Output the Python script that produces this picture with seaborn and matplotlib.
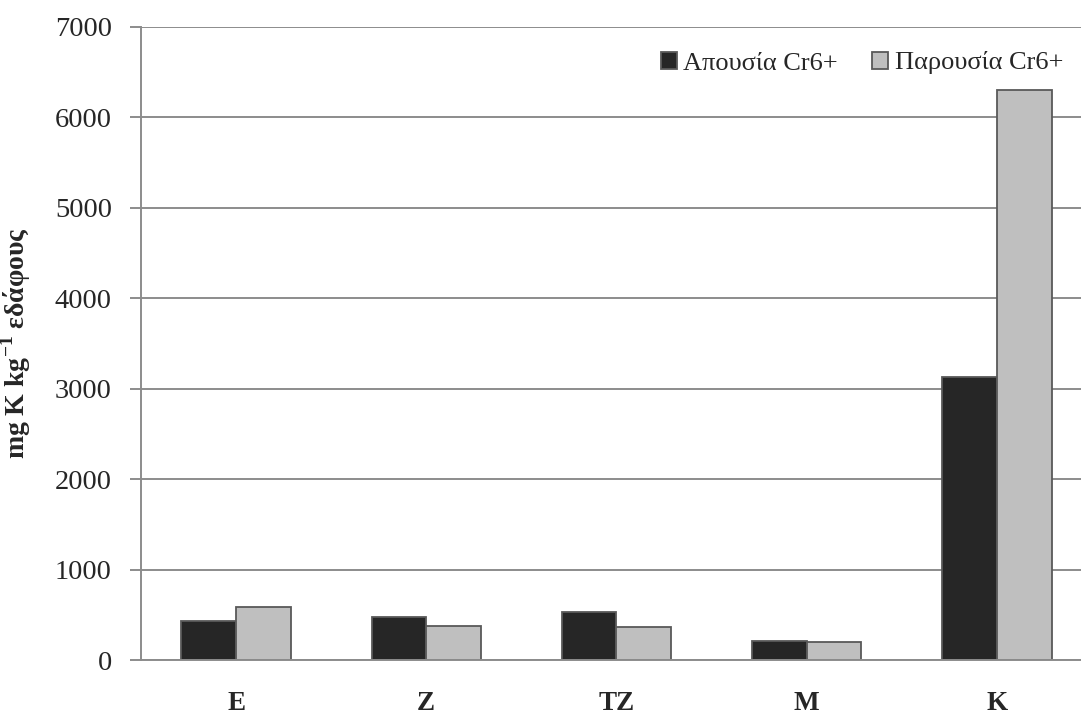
import numpy as np
import pandas as pd
import matplotlib
matplotlib.use('Agg')
import matplotlib.pyplot as plt
import seaborn as sns

# Δεδομένα (εκτίμηση από το γράφημα)
categories = ['E', 'Z', 'TZ', 'M', 'K']
absence = [430, 470, 528, 210, 3130]
presence = [582, 372, 368, 200, 6300]
series_names = ['Απουσία Cr6+', 'Παρουσία Cr6+']
yticks = [0, 1000, 2000, 3000, 4000, 5000, 6000, 7000]

df = pd.DataFrame({
    'cat': categories * 2,
    'val': absence + presence,
    'series': [series_names[0]] * len(categories) + [series_names[1]] * len(categories),
})

sns.set_style('white')
plt.rcParams['font.family'] = ['Liberation Serif', 'DejaVu Serif']
plt.rcParams['mathtext.fontset'] = 'custom'
plt.rcParams['mathtext.rm'] = 'Liberation Serif'
plt.rcParams['mathtext.bf'] = 'Liberation Serif:bold'

fig = plt.figure(figsize=(10.81, 7.16), dpi=100)
# plot area runs slightly past the right edge of the image, as in the original
ax = fig.add_axes([141 / 1081, 1 - 660 / 716, 951 / 1081, 633 / 716])
ax.set_axisbelow(True)
ax.yaxis.grid(True, color='#8c8c8c', linewidth=1.4)

palette = {series_names[0]: '#262626', series_names[1]: '#bfbfbf'}
sns.barplot(data=df, x='cat', y='val', hue='series', palette=palette, width=0.575,
            edgecolor='#595959', linewidth=1.3, saturation=1, ax=ax, gap=0)

ax.set_ylim(0, 7000)
ax.set_yticks(yticks)
ax.set_xlim(-0.5, len(categories) - 0.5)
ax.tick_params(axis='y', labelsize=20.5, length=8, width=1.4, color='#8c8c8c', pad=13, left=True)
ax.tick_params(axis='x', labelsize=19.5, length=0, pad=22)
for lbl in ax.get_xticklabels():
    lbl.set_fontweight('bold')

ax.set_xlabel('')
ax.set_ylabel(r'mg K kg$^{\mathbf{-1}}$ εδάφους', fontsize=20, fontweight='bold', labelpad=16)

for side in ['top', 'right']:
    ax.spines[side].set_visible(False)
for side in ['left', 'bottom']:
    ax.spines[side].set_color('#8c8c8c')
    ax.spines[side].set_linewidth(1.4)

ax.legend(loc='center right', ncol=2, frameon=False, fontsize=19,
          handlelength=0.6, handleheight=0.6, handletextpad=0.25,
          columnspacing=1.3, borderpad=0, borderaxespad=0,
          bbox_to_anchor=(1063 / 1081, 1 - 63 / 716), bbox_transform=fig.transFigure)

fig.savefig('out.png', dpi=100)
plt.close()
